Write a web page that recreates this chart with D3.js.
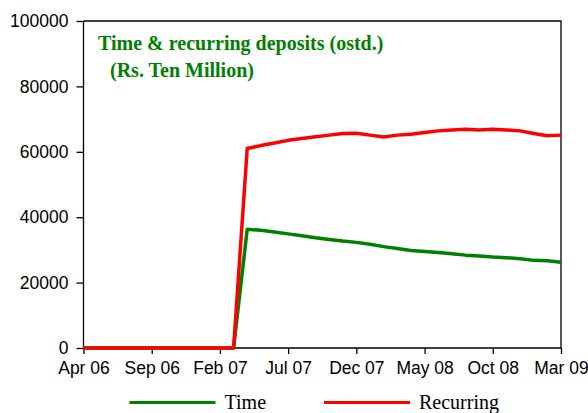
<!DOCTYPE html>
<html>
<head>
<meta charset="utf-8">
<script src="https://cdn.jsdelivr.net/npm/d3@7"></script>
<style>
  body { margin: 0; background: #fff; }
  .axis text { font-family: "Liberation Sans", Arial, sans-serif; font-size: 17.5px; fill: #000; }
  .axis path, .axis line { stroke: #000; stroke-width: 1.3px; }
</style>
</head>
<body>
<script>
// months Apr 06 .. Mar 09 (category axis)
var months = ['Apr 06','May 06','Jun 06','Jul 06','Aug 06','Sep 06','Oct 06','Nov 06','Dec 06','Jan 07','Feb 07','Mar 07',
              'Apr 07','May 07','Jun 07','Jul 07','Aug 07','Sep 07','Oct 07','Nov 07','Dec 07','Jan 08','Feb 08','Mar 08',
              'Apr 08','May 08','Jun 08','Jul 08','Aug 08','Sep 08','Oct 08','Nov 08','Dec 08','Jan 09','Feb 09','Mar 09'];
var tickMonths = ['Apr 06','Sep 06','Feb 07','Jul 07','Dec 07','May 08','Oct 08','Mar 09'];
var yTicks = [0,20000,40000,60000,80000,100000];

var timeDep = [0,0,0,0,0,0,0,0,0,0,0,0,
               36300,36000,35500,34900,34300,33700,33200,32700,32300,31700,31000,30400,
               29800,29500,29200,28800,28400,28100,27800,27600,27300,26800,26700,26200];
var recurDep = [0,0,0,0,0,0,0,0,0,0,0,0,
                61000,61900,62700,63500,64100,64600,65100,65600,65700,65100,64500,65100,
                65400,65900,66400,66700,66900,66700,66900,66700,66400,65600,64900,65100];

var width = 588, height = 413;
var margin = {left:83.5, right:27, top:21, bottom:65};
var w = width - margin.left - margin.right;
var h = height - margin.top - margin.bottom;

var svg = d3.select("body").append("svg").attr("width",width).attr("height",height);
var g = svg.append("g").attr("transform","translate("+margin.left+","+margin.top+")");

var x = d3.scalePoint().domain(months).range([0,w]);
var y = d3.scaleLinear().domain([0,100000]).range([h,0]);

// frame (top + right)
g.append("path")
  .attr("d","M0,0H"+w+"V"+h)
  .attr("fill","none").attr("stroke","#000").attr("stroke-width",1.3);

var xAxis = d3.axisBottom(x).tickValues(tickMonths).tickSize(6).tickPadding(8);
g.append("g").attr("class","axis").attr("transform","translate(0,"+h+")").call(xAxis)
  .select(".domain").attr("d","M0,0H"+w);

var yAxis = d3.axisLeft(y).tickValues(yTicks).tickSize(7).tickPadding(8).tickFormat(d3.format("d"));
g.append("g").attr("class","axis").call(yAxis)
  .select(".domain").attr("d","M0,"+h+"V0");

var line = d3.line()
  .x(function(d,i){ return x(months[i]); })
  .y(function(d){ return y(d); });

g.append("path").attr("d",line(timeDep)).attr("fill","none")
  .attr("stroke","#008000").attr("stroke-width",3.5).attr("stroke-linejoin","round");
g.append("path").attr("d",line(recurDep)).attr("fill","none")
  .attr("stroke","#ff0000").attr("stroke-width",3.5).attr("stroke-linejoin","round");

// title
var title = svg.append("text")
  .attr("font-family","'Liberation Serif','Times New Roman',serif")
  .attr("font-weight","bold").attr("font-size",20).attr("fill","#008000");
title.append("tspan").attr("x",98).attr("y",50).text("Time & recurring deposits (ostd.)");
title.append("tspan").attr("x",110).attr("y",77).text("(Rs. Ten Million)");

// legend
var legend = [
  {name:"Time", color:"#008000", x0:129.5},
  {name:"Recurring", color:"#ff0000", x0:324}
];
var lg = svg.selectAll(".leg").data(legend).enter().append("g").attr("class","leg");
lg.append("line")
  .attr("x1",function(d){ return d.x0; }).attr("x2",function(d){ return d.x0+86; })
  .attr("y1",402.5).attr("y2",402.5)
  .attr("stroke",function(d){ return d.color; }).attr("stroke-width",3);
lg.append("text")
  .attr("x",function(d){ return d.x0+95; }).attr("y",409)
  .attr("font-family","'Liberation Serif','Times New Roman',serif")
  .attr("font-size",20).attr("fill","#000")
  .text(function(d){ return d.name; });
</script>
</body>
</html>
